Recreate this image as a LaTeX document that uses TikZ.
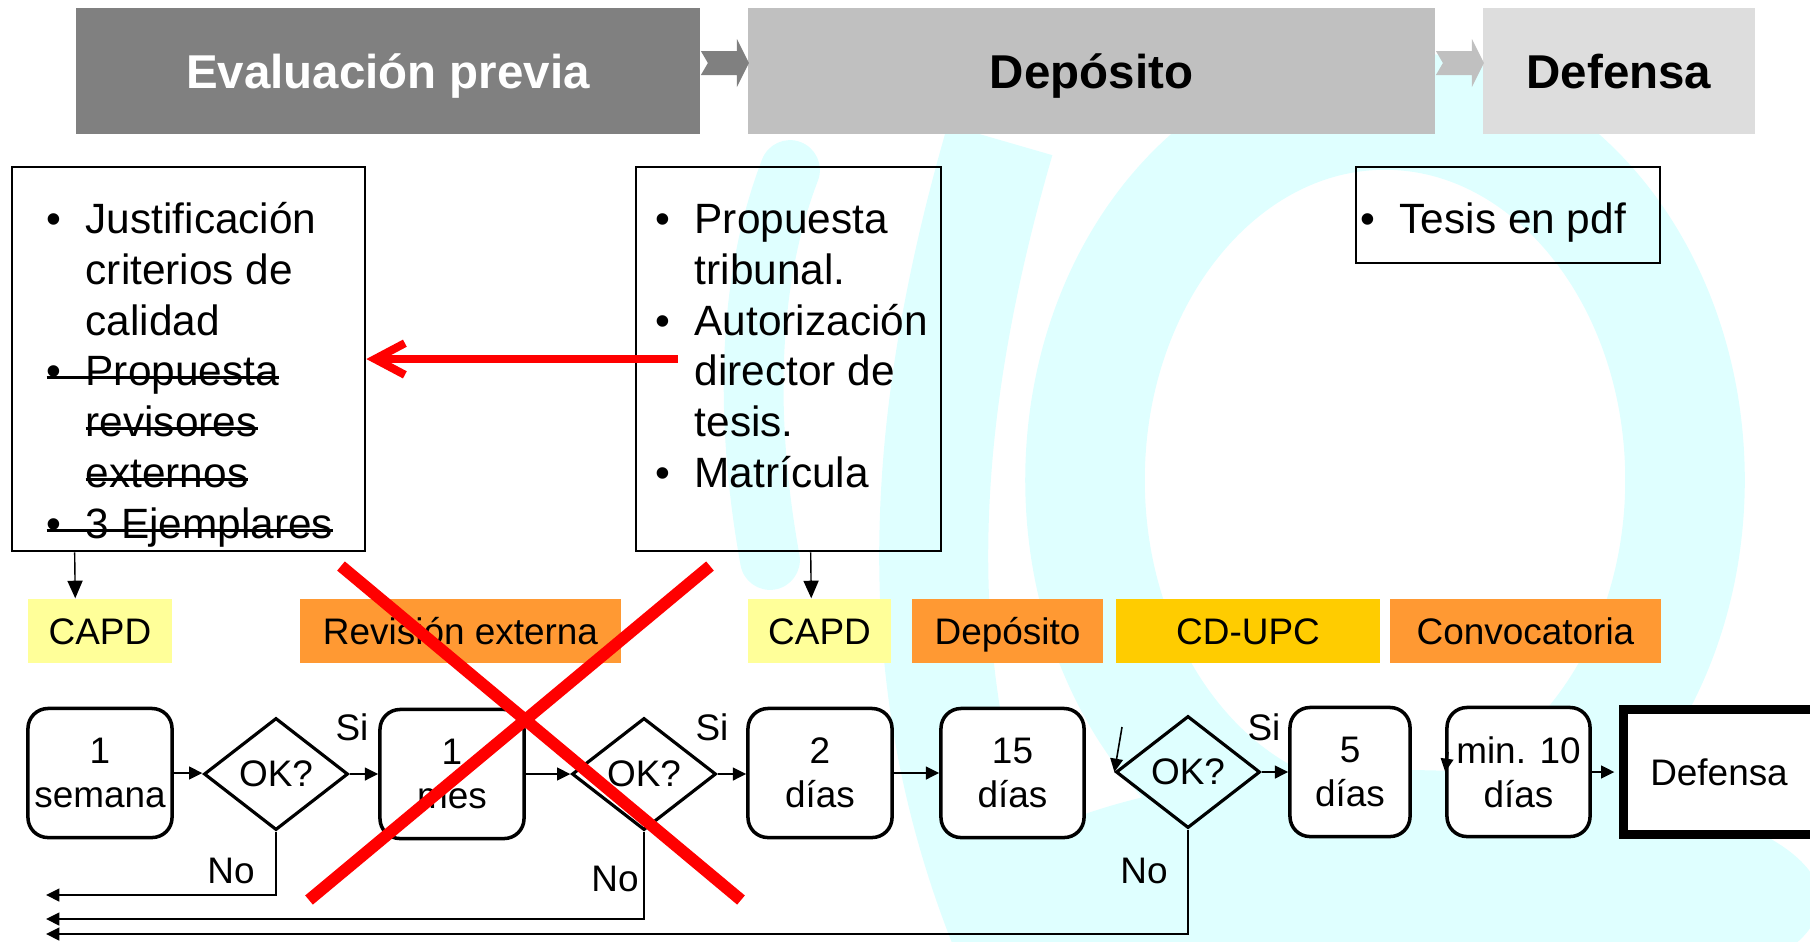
\documentclass[tikz,border=0pt]{standalone}
\usepackage{fontspec}
\setmainfont{Liberation Sans}
\usetikzlibrary{arrows.meta}
\usetikzlibrary{calc}
\usetikzlibrary{shapes.geometric}
\definecolor{evalgray}{HTML}{808080}
\definecolor{depgray}{HTML}{C0C0C0}
\definecolor{defgray}{HTML}{DDDDDD}
\definecolor{capdyellow}{HTML}{FFFF99}
\definecolor{steporange}{HTML}{FF9933}
\definecolor{upcgold}{HTML}{FFCC00}
\definecolor{wmcyan}{HTML}{DFFFFF}
\newsavebox\strikebox
\newcommand*\strike[1]{\sbox\strikebox{#1}\rlap{\rule[0.3ex]{\wd\strikebox}{0.8pt}}\usebox\strikebox}
\newcommand*\bul{\makebox[0.39cm][l]{\textbullet}}
\newcommand*\ind{\hspace*{0.39cm}}
\tikzset{
    phasebox/.style = {inner sep=0, minimum height=1.26cm, text height=0.34cm, text depth=0cm, font=\fontsize{13.5}{16}\selectfont\bfseries},
    listbox/.style = {draw, line width=0.7pt, inner sep=0},
    listtext/.style = {anchor=base west, inner sep=0, font=\fontsize{12.05}{14.5}\selectfont}
}
\tikzset{
    tagbox/.style = {inner sep=0, minimum height=0.64cm, text height=0.265cm, text depth=0cm, font=\fontsize{10.5}{12.5}\selectfont},
    taskbox/.style = {draw, fill=white, line width=1pt, rounded corners=0.2cm, inner sep=0, minimum height=1.29cm, align=center, font=\fontsize{10.5}{12.5}\selectfont},
    okbox/.style = {draw, diamond, aspect=1.29, line width=0.9pt, inner sep=0, minimum width=1.44cm, minimum height=1.12cm, font=\fontsize{10.5}{12.5}\selectfont},
    finbox/.style = {draw, fill=white, line width=2.56pt, inner sep=0, minimum width=1.91cm, minimum height=1.25cm, font=\fontsize{10.5}{12.5}\selectfont},
    answer/.style = {inner sep=0, font=\fontsize{10.5}{12.5}\selectfont}
}
\tikzset{
    flow/.style = {line width=0.7pt, -{Triangle[length=3.8pt,width=3.6pt]}},
    drop/.style = {line width=0.4pt, -{Triangle[length=5pt,width=4.3pt]}},
    backflow/.style = {flow},
    redarrow/.style = {red, line width=2.3pt, -{Straight Barb[length=8.5pt,width=9pt]}},
    redcross/.style = {red, line width=3.4pt}
}

\begin{document}
\begin{tikzpicture}[x=0.01cm,y=-0.01cm]
    \useasboundingbox (0,0) rectangle (1810,941);
    % Watermark
    \begin{scope}[wmcyan]
        \fill (1400,900) ellipse [x radius=420, y radius=130];
        \draw[line width=34pt] (1385,480) ellipse [x radius=300, y radius=370];
        \draw[line width=31pt] (1000,140) .. controls (910,450) and (910,700) .. (1010,941);
        \draw[line width=17pt,line cap=round] (790,170) .. controls (740,300) and (750,450) .. (770,560);
    \end{scope}
    % Phases
    \node[phasebox,fill=evalgray,text=white,minimum width=6.24cm] (evp) at (388,71) {Evaluación previa};
    \node[phasebox,fill=depgray,minimum width=6.87cm] (dep) at (1091.5,71) {Depósito};
    \node[phasebox,fill=defgray,minimum width=2.72cm] (def) at (1619,71) {Defensa};
    \foreach \from/\col in {evp/evalgray,dep/depgray}
        \fill[\col] ($(\from.east)+(0,-20)$) -- ++(36,0) -- ++(0,-12) -- ++(12,24)
            -- ++(-12,24) -- ++(0,-12) -- ++(-36,0) -- ++(7,-12) -- cycle;
    % Requirements
    \node[listbox,minimum width=3.53cm,minimum height=3.84cm] (critbox) at (188.5,359) {};
    \node[listbox,minimum width=3.05cm,minimum height=3.84cm] (authbox) at (788.5,359) {};
    \node[listbox,minimum width=3.04cm,minimum height=0.96cm] (pdfbox) at (1508,215) {};
    \node[listtext] (critlist) at (46,233) {\begin{tabular}[t]{@{}l@{}}
        \bul Justificación\\
        \ind criterios de\\
        \ind calidad\\
        \strike{\bul Propuesta}\\
        \ind\strike{revisores}\\
        \ind\strike{externos}\\
        \strike{\bul 3 Ejemplares}
    \end{tabular}};
    \node[listtext] (authlist) at (655,233) {\begin{tabular}[t]{@{}l@{}}
        \bul Propuesta\\
        \ind tribunal.\\
        \bul Autorización\\
        \ind director de\\
        \ind tesis.\\
        \bul Matrícula
    \end{tabular}};
    \node[listtext] (pdflist) at (1360,233) {\bul Tesis en pdf};
    % Responsible units
    \node[tagbox,fill=capdyellow,minimum width=1.44cm] (capd1) at (100,631) {CAPD};
    \node[tagbox,fill=steporange,minimum width=3.21cm] (revext) at (460.5,631) {Revisión externa};
    \node[tagbox,fill=capdyellow,minimum width=1.43cm] (capd2) at (819.5,631) {CAPD};
    \node[tagbox,fill=steporange,minimum width=1.91cm] (depo) at (1007.5,631) {Depósito};
    \node[tagbox,fill=upcgold,minimum width=2.64cm] (cdupc) at (1248,631) {CD-UPC};
    \node[tagbox,fill=steporange,minimum width=2.71cm] (convoc) at (1525.5,631) {Convocatoria};
    \draw[drop] ($(critbox.south west)+(64,0)$) -- ($(capd1.north west)+(48,0)$);
    \draw[drop] ($(authbox.south west)+(176,0)$) -- ($(capd2.north west)+(64,0)$);
    % Flow
    \node[taskbox,minimum width=1.44cm] (sem) at (100,773) {1\\semana};
    \node[okbox] (ok1) at (276,774) {OK?};
    \node[taskbox,minimum width=1.44cm] (mes) at (452,774) {1\\mes};
    \node[okbox] (ok2) at (644,774) {OK?};
    \node[taskbox,minimum width=1.44cm] (dos) at (820,773) {2\\días};
    \node[taskbox,minimum width=1.43cm] (quince) at (1012.5,773) {15\\días};
    \node[okbox] (ok3) at (1188,772) {OK?};
    \node[taskbox,minimum width=1.2cm] (cinco) at (1350,772) {5\\días};
    \node[taskbox,minimum width=1.43cm] (diez) at (1518.5,772) {min. 10\\días};
    \node[finbox] (fin) at (1719,772) {Defensa};
    \node[answer] (si1) at (352,727) {Si};
    \node[answer] (si2) at (712,727) {Si};
    \node[answer] (si3) at (1264,727) {Si};
    \node[answer] (no1) at (231,871) {No};
    \node[answer] (no2) at (615,879) {No};
    \node[answer] (no3) at (1144,871) {No};
    \foreach \src/\dest in {sem/ok1,ok1/mes,mes/ok2,ok2/dos,dos/quince,ok3/cinco}
        \draw[flow] (\src.east) -- (\src.east -| \dest.west);
    \draw[flow,shorten >=1.3pt] (diez.east) -- (diez.east -| fin.west);
    \coordinate (stray1) at (1122,727);
    \coordinate (stray2) at (1448,752);
    \draw[flow,line width=0.45pt] (stray1) -- (ok3.west);
    \draw[flow,line width=0.45pt] (stray2) -- (diez.west);
    % Rejections
    \coordinate (back1) at (46,895);
    \coordinate (back2) at (46,919);
    \coordinate (back3) at (46,934);
    \foreach \src/\dest in {ok1/back1,ok2/back2,ok3/back3}
        \draw[backflow] (\src.south) |- (\dest);
    % Changes
    \draw[redarrow] ($(authbox.west)+(43,0)$) -- (critbox.east);
    \coordinate (xa) at (309,900);
    \coordinate (xb) at (710,566);
    \coordinate (xc) at (341,566);
    \coordinate (xd) at (741,900);
    \draw[redcross] (xa) -- (xb);
    \draw[redcross] (xc) -- (xd);
\end{tikzpicture}
\end{document}
